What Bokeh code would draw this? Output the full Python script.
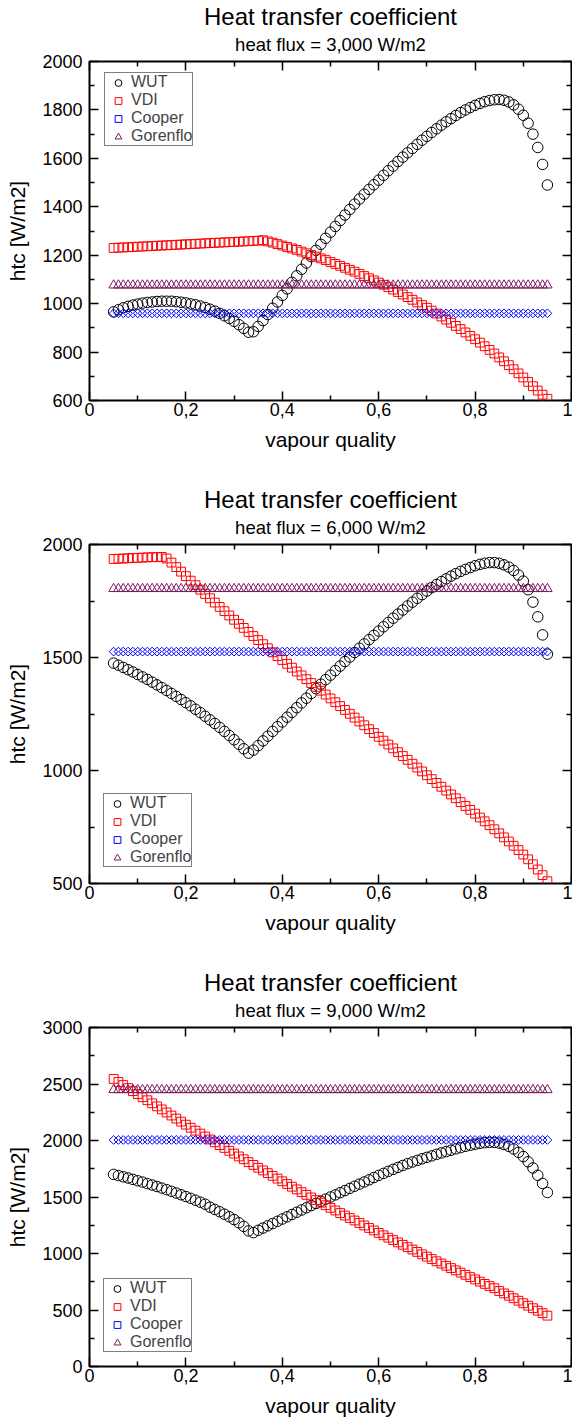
import math
from bokeh.plotting import figure
from bokeh.models import Range1d, FixedTicker, LinearAxis, Legend, LegendItem, Title
from bokeh.layouts import column
from bokeh.embed import file_html
from bokeh.resources import INLINE

quality = [0.05, 0.06, 0.07, 0.08, 0.09, 0.10, 0.11, 0.12, 0.13, 0.14,
           0.15, 0.16, 0.17, 0.18, 0.19, 0.20, 0.21, 0.22, 0.23, 0.24,
           0.25, 0.26, 0.27, 0.28, 0.29, 0.30, 0.31, 0.32, 0.33, 0.34,
           0.35, 0.36, 0.37, 0.38, 0.39, 0.40, 0.41, 0.42, 0.43, 0.44,
           0.45, 0.46, 0.47, 0.48, 0.49, 0.50, 0.51, 0.52, 0.53, 0.54,
           0.55, 0.56, 0.57, 0.58, 0.59, 0.60, 0.61, 0.62, 0.63, 0.64,
           0.65, 0.66, 0.67, 0.68, 0.69, 0.70, 0.71, 0.72, 0.73, 0.74,
           0.75, 0.76, 0.77, 0.78, 0.79, 0.80, 0.81, 0.82, 0.83, 0.84,
           0.85, 0.86, 0.87, 0.88, 0.89, 0.90, 0.91, 0.92, 0.93, 0.94, 0.95]

# ---- heat flux 3,000 W/m2 ----
wut_3000 = [966, 975, 983, 989, 994, 998, 1002, 1005, 1007, 1009,
            1010, 1010, 1010, 1008, 1006, 1003, 999, 995, 990, 984,
            977, 969, 960, 950, 939, 927, 913, 898, 882, 884,
            906, 930, 955, 981, 1007, 1034, 1061, 1088, 1115, 1142,
            1168, 1194, 1220, 1245, 1270, 1295, 1319, 1343, 1366, 1389,
            1411, 1432, 1452, 1472, 1491, 1510, 1530, 1549, 1568, 1587,
            1605, 1623, 1641, 1658, 1675, 1691, 1707, 1722, 1737, 1751,
            1764, 1777, 1789, 1800, 1810, 1819, 1827, 1834, 1839, 1842,
            1843, 1840, 1833, 1821, 1803, 1778, 1745, 1700, 1645, 1575, 1490]
vdi_3000 = [1230, 1231, 1232, 1233, 1234, 1235, 1236, 1237, 1238, 1239,
            1240, 1241, 1242, 1243, 1244, 1245, 1246, 1247, 1248, 1249,
            1250, 1251, 1252, 1253, 1254, 1255, 1256, 1257, 1258, 1259,
            1260, 1262, 1257, 1252, 1246, 1240, 1234, 1228, 1222, 1215,
            1208, 1201, 1194, 1187, 1180, 1172, 1164, 1156, 1148, 1140,
            1132, 1123, 1114, 1105, 1096, 1087, 1078, 1068, 1058, 1048,
            1038, 1027, 1016, 1005, 994, 983, 971, 959, 947, 934,
            921, 908, 895, 881, 867, 853, 839, 824, 809, 794,
            778, 762, 746, 729, 712, 695, 677, 659, 641, 624, 607]
cooper_3000 = [960] * 91
gorenflo_3000 = [1076] * 91

# ---- heat flux 6,000 W/m2 ----
wut_6000 = [1475, 1466, 1456, 1446, 1436, 1425, 1414, 1403, 1391, 1379,
            1367, 1354, 1341, 1328, 1314, 1300, 1286, 1271, 1256, 1240,
            1224, 1208, 1191, 1173, 1155, 1136, 1116, 1096, 1077, 1090,
            1110, 1131, 1152, 1173, 1194, 1215, 1236, 1257, 1278, 1299,
            1320, 1341, 1362, 1382, 1402, 1422, 1442, 1462, 1482, 1502,
            1522, 1541, 1560, 1579, 1598, 1617, 1636, 1655, 1674, 1692,
            1710, 1728, 1745, 1762, 1778, 1794, 1809, 1823, 1836, 1848,
            1860, 1871, 1881, 1890, 1898, 1906, 1912, 1917, 1920, 1920,
            1917, 1910, 1900, 1885, 1865, 1838, 1800, 1745, 1680, 1600, 1515]
vdi_6000 = [1936, 1937, 1938, 1939, 1940, 1941, 1942, 1943, 1944, 1944,
            1945, 1938, 1920, 1900, 1880, 1860, 1840, 1820, 1800, 1781,
            1762, 1743, 1724, 1705, 1686, 1667, 1649, 1631, 1613, 1595,
            1577, 1559, 1541, 1523, 1506, 1489, 1472, 1455, 1438, 1421,
            1404, 1387, 1370, 1353, 1336, 1319, 1302, 1285, 1268, 1251,
            1234, 1217, 1200, 1183, 1166, 1149, 1132, 1115, 1098, 1081,
            1064, 1047, 1030, 1013, 996, 979, 962, 945, 928, 911,
            894, 877, 860, 843, 826, 809, 792, 775, 758, 740,
            722, 704, 686, 667, 648, 628, 607, 585, 562, 537, 510]
cooper_6000 = [1526] * 91
gorenflo_6000 = [1804] * 91

# ---- heat flux 9,000 W/m2 ----
wut_9000 = [1700, 1690, 1679, 1668, 1656, 1644, 1632, 1619, 1606, 1593,
            1579, 1565, 1550, 1535, 1520, 1504, 1488, 1471, 1454, 1436,
            1410, 1390, 1370, 1348, 1325, 1300, 1272, 1240, 1200, 1185,
            1205, 1225, 1245, 1265, 1285, 1305, 1325, 1345, 1365, 1385,
            1405, 1424, 1443, 1462, 1481, 1500, 1519, 1538, 1557, 1576,
            1595, 1614, 1633, 1652, 1672, 1691, 1709, 1727, 1745, 1762,
            1779, 1795, 1810, 1824, 1838, 1851, 1864, 1877, 1890, 1902,
            1914, 1926, 1937, 1948, 1958, 1967, 1975, 1981, 1984, 1983,
            1977, 1965, 1948, 1925, 1895, 1858, 1812, 1757, 1692, 1620, 1540]
vdi_9000 = [2545, 2518, 2491, 2464, 2437, 2410, 2383, 2356, 2329, 2302,
            2275, 2248, 2221, 2194, 2167, 2140, 2113, 2087, 2061, 2035,
            2009, 1984, 1959, 1934, 1909, 1884, 1859, 1834, 1809, 1784,
            1759, 1735, 1711, 1687, 1663, 1639, 1615, 1591, 1567, 1543,
            1519, 1496, 1473, 1450, 1427, 1404, 1381, 1358, 1336, 1314,
            1292, 1270, 1248, 1226, 1204, 1182, 1161, 1140, 1119, 1098,
            1077, 1056, 1035, 1014, 993, 972, 951, 931, 911, 891,
            871, 851, 831, 811, 791, 771, 751, 731, 712, 693,
            668, 647, 626, 604, 582, 560, 538, 516, 494, 472, 450]
cooper_9000 = [2005] * 91
gorenflo_9000 = [2448] * 91

x_ticks = [0, 0.2, 0.4, 0.6, 0.8, 1]
x_tick_labels = ["0", "0,2", "0,4", "0,6", "0,8", "1"]
x_minor = [0.1, 0.3, 0.5, 0.7, 0.9]

y_ticks_3000 = [600, 800, 1000, 1200, 1400, 1600, 1800, 2000]
y_minor_3000 = [700, 900, 1100, 1300, 1500, 1700, 1900]
y_ticks_6000 = [500, 1000, 1500, 2000]
y_minor_6000 = [750, 1250, 1750]
y_ticks_9000 = [0, 500, 1000, 1500, 2000, 2500, 3000]
y_minor_9000 = [250, 750, 1250, 1750, 2250, 2750]

series_names = ["WUT", "VDI", "Cooper", "Gorenflo"]
titles = ["heat flux = 3,000 W/m2", "heat flux = 6,000 W/m2", "heat flux = 9,000 W/m2"]

FONT = "Liberation Sans"
PURPLE = "#7a1a5e"


def style_axis(ax, ticker, show_labels):
    ax.ticker = ticker
    ax.major_tick_in = 9
    ax.major_tick_out = 0
    ax.minor_tick_in = 5
    ax.minor_tick_out = 0
    ax.major_tick_line_width = 1.5
    ax.minor_tick_line_width = 1.5
    ax.major_tick_line_color = "black"
    ax.minor_tick_line_color = "black"
    ax.axis_line_color = None
    if show_labels:
        ax.major_label_text_font = FONT
        ax.major_label_text_font_size = "18px"
        ax.major_label_text_color = "black"
        ax.axis_label_text_font = FONT
        ax.axis_label_text_font_size = "21px"
        ax.axis_label_text_font_style = "normal"
        ax.axis_label_text_color = "black"
    else:
        ax.major_label_text_font_size = "0px"
        ax.major_label_text_color = None
        ax.major_label_standoff = 0


def make_panel(wut, vdi, cooper, gorenflo, subtitle, y_lo, y_hi, y_major, y_minor,
               legend_loc, height, border_bottom):
    p = figure(width=569, height=height, output_backend="svg", toolbar_location=None,
               x_range=Range1d(0, 1), y_range=Range1d(y_lo, y_hi),
               min_border_left=0, min_border_right=1, min_border_top=0,
               min_border_bottom=border_bottom, margin=(0, 0, 0, 3))
    p.grid.visible = False
    p.outline_line_color = "black"
    p.outline_line_width = 2
    p.outline_line_alpha = 1
    p.background_fill_color = "white"
    p.border_fill_color = "white"

    xt = FixedTicker(ticks=x_ticks, minor_ticks=x_minor)
    yt = FixedTicker(ticks=y_major, minor_ticks=y_minor)

    style_axis(p.xaxis[0], xt, True)
    p.xaxis[0].major_label_overrides = dict(zip(x_ticks, x_tick_labels))
    p.xaxis[0].major_label_standoff = 2
    p.xaxis[0].axis_label = "vapour quality"
    p.xaxis[0].axis_label_standoff = 9

    style_axis(p.yaxis[0], yt, True)
    p.yaxis[0].major_label_standoff = 7
    p.yaxis[0].axis_label = "htc [W/m2]"
    p.yaxis[0].axis_label_standoff = 10

    top = LinearAxis()
    style_axis(top, FixedTicker(ticks=x_ticks, minor_ticks=x_minor), False)
    p.add_layout(top, "above")
    right = LinearAxis()
    style_axis(right, FixedTicker(ticks=y_major, minor_ticks=y_minor), False)
    p.add_layout(right, "right")

    # blank spacer between the frame and the subtitle
    p.add_layout(Title(text=" ", text_font=FONT, text_font_size="3px",
                       text_color="white", standoff=0), "above")
    p.add_layout(Title(text=subtitle, align="center", text_font=FONT, text_font_size="18.5px",
                       text_font_style="normal", text_color="black", standoff=4), "above")
    p.add_layout(Title(text="Heat transfer coefficient", align="center", text_font=FONT,
                       text_font_size="24px", text_font_style="normal", text_color="black",
                       standoff=0), "above")

    r_wut = p.scatter(quality, wut, marker="circle", size=10.5, fill_color=None,
                      line_color="black", line_width=1)
    r_vdi = p.scatter(quality, vdi, marker="square", size=8.8, fill_color=None,
                      line_color="red", line_width=1)
    r_coop = p.scatter(quality, cooper, marker="square", angle=math.pi / 4, size=6.2,
                       fill_color=None, line_color="blue", line_width=1)
    r_gor = p.scatter(quality, gorenflo, marker="triangle", size=9.5, fill_color=None,
                      line_color=PURPLE, line_width=1)

    legend = Legend(items=[LegendItem(label=n, renderers=[r]) for n, r in
                           zip(series_names, [r_wut, r_vdi, r_coop, r_gor])],
                    location=legend_loc, margin=0, padding=0, spacing=0,
                    glyph_width=26, glyph_height=17, label_height=17, label_standoff=0,
                    label_text_font=FONT, label_text_font_size="16px",
                    border_line_color="black", border_line_width=1,
                    background_fill_color="white", background_fill_alpha=1)
    p.add_layout(legend)
    return p


p1 = make_panel(wut_3000, vdi_3000, cooper_3000, gorenflo_3000, titles[0], 600, 2000,
                y_ticks_3000, y_minor_3000, (15, 254), 483, 83)
p2 = make_panel(wut_6000, vdi_6000, cooper_6000, gorenflo_6000, titles[1], 500, 2000,
                y_ticks_6000, y_minor_6000, (14, 16), 483, 83)
p3 = make_panel(wut_9000, vdi_9000, cooper_9000, gorenflo_9000, titles[2], 0, 3000,
                y_ticks_9000, y_minor_9000, (14, 14), 453, 53)

layout = column(p1, p2, p3, spacing=0)
open("out.html", "w").write(file_html(layout, INLINE))
